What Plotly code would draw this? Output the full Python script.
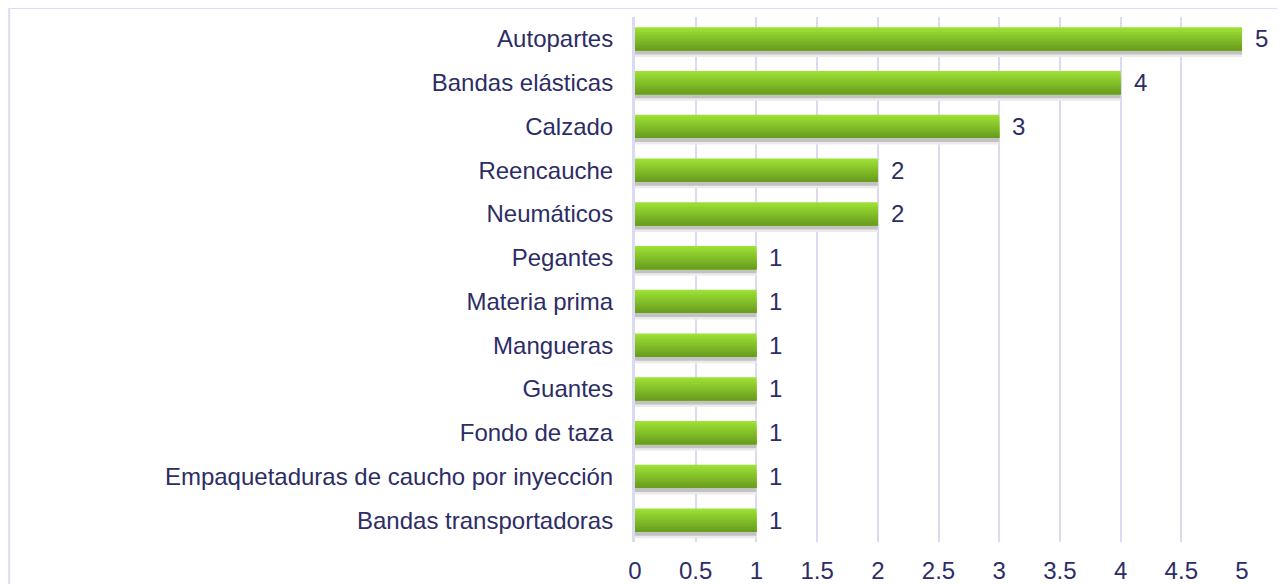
import plotly.graph_objects as go

# Data (top to bottom as shown)
categories = [
    "Autopartes", "Bandas elásticas", "Calzado", "Reencauche", "Neumáticos",
    "Pegantes", "Materia prima", "Mangueras", "Guantes", "Fondo de taza",
    "Empaquetaduras de caucho por inyección", "Bandas transportadoras",
]
values = [5, 4, 3, 2, 2, 1, 1, 1, 1, 1, 1, 1]
x_ticks = [0, 0.5, 1, 1.5, 2, 2.5, 3, 3.5, 4, 4.5, 5]

TEXT_COLOR = "#2d2d66"
GRID_COLOR = "#dadaf0"
FONT = "Liberation Sans, Arial, sans-serif"
FSIZE = 24

BAR_H = 0.53          # bar thickness in category units
TOP_RGB = (0x9c, 0xe0, 0x34)
BOT_RGB = (0x6a, 0x9e, 0x1e)
N_SLICES = 10

fig = go.Figure()

# soft shadow under each bar
fig.add_trace(go.Bar(
    x=values, y=categories, orientation="h",
    width=0.17, offset=BAR_H / 2 - 0.02,
    marker=dict(color="#ebebeb", line=dict(width=0)),
    hoverinfo="skip", showlegend=False,
))
fig.add_trace(go.Bar(
    x=values, y=categories, orientation="h",
    width=0.11, offset=BAR_H / 2 - 0.02,
    marker=dict(color="#c2c2c2", line=dict(width=0)),
    hoverinfo="skip", showlegend=False,
))

# vertical gradient: each slice runs down to the bar bottom and
# the next one is drawn on top, so no seams show between them
slice_w = BAR_H / N_SLICES
for i in range(N_SLICES):
    t = i / (N_SLICES - 1)
    rgb = tuple(int(round(a + (b - a) * t)) for a, b in zip(TOP_RGB, BOT_RGB))
    fig.add_trace(go.Bar(
        x=values, y=categories, orientation="h",
        width=BAR_H - i * slice_w, offset=-BAR_H / 2 + i * slice_w,
        marker=dict(color="rgb(%d,%d,%d)" % rgb, line=dict(width=0)),
        hoverinfo="skip", showlegend=False,
    ))

# value labels
for cat, v in zip(categories, values):
    fig.add_annotation(
        x=v, y=cat, text=str(v), showarrow=False,
        xanchor="left", xshift=11,
        font=dict(family=FONT, size=FSIZE, color=TEXT_COLOR),
    )

# light frame around the chart
fig.add_shape(
    type="rect", xref="paper", yref="paper",
    x0=-1.031, x1=1.2, y0=-0.3, y1=1.017,
    line=dict(color="#dcdcf2", width=2), fillcolor="rgba(0,0,0,0)",
    layer="below",
)

# page body adds 8px, so figure is sized to fit the window
fig.update_layout(
    barmode="overlay",
    width=1277, height=576,
    plot_bgcolor="white", paper_bgcolor="white",
    margin=dict(l=627, r=43, t=9, b=42),
    font=dict(family=FONT, size=FSIZE, color=TEXT_COLOR),
    showlegend=False,
)
fig.update_xaxes(
    range=[0, 5], tickvals=x_ticks, ticktext=[f"{t:g}" for t in x_ticks],
    showgrid=True, gridcolor=GRID_COLOR, gridwidth=2,
    zeroline=False, showline=False, automargin=False,
    ticklabelstandoff=12,
    tickfont=dict(family=FONT, size=FSIZE, color=TEXT_COLOR),
)
fig.update_yaxes(
    categoryorder="array", categoryarray=categories, autorange="reversed",
    showgrid=False, zeroline=False, automargin=False,
    showline=True, linecolor=GRID_COLOR, linewidth=3,
    ticklabelstandoff=14,
    tickfont=dict(family=FONT, size=FSIZE, color=TEXT_COLOR),
)

fig.write_html("out.html")
